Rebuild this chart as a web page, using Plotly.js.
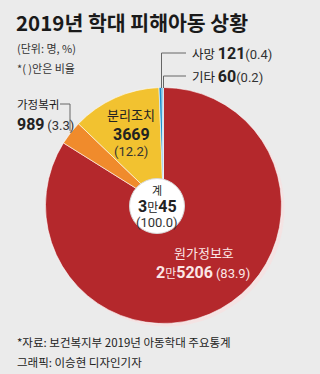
<!DOCTYPE html>
<html><head><meta charset="utf-8">
<script src="https://cdn.plot.ly/plotly-3.0.1.min.js"></script>
<style>html,body{margin:0;padding:0;background:#ebebeb;}#c{width:320px;height:374px;}</style>
</head><body><div id="c"></div>
<script>
const categories = ['원가정보호', '가정복귀', '분리조치', '사망', '기타'];
const counts = [25206, 989, 3669, 121, 60];
const percents = [83.9, 3.3, 12.2, 0.4, 0.2];
const countLabels = ['2만5206', '989', '3669', '121', '60'];
const totalName = '계';
const totalLabel = '3만45';
const totalPercent = '(100.0)';
const colors = ['#b4282c', '#f08b2c', '#f2c230', '#1b8ccc', '#4fb3e0'];

const W = 320, H = 374;
const px = x => x / W;
const py = y => 1 - y / H;
const FONT = '"Noto Sans CJK KR", "Noto Sans", sans-serif';
const NUM = "'Liberation Sans Narrow', 'Roboto', sans-serif";

function ann(x, y, text, size, color, anchor) {
  return {x: px(x), y: py(y), xref: 'paper', yref: 'paper', text: text, showarrow: false,
    xanchor: anchor || 'left', yanchor: 'middle', font: {family: FONT, size: size, color: color || '#222'}};
}
function line(x0, y0, x1, y1) {
  return {type: 'line', xref: 'paper', yref: 'paper', x0: px(x0), y0: py(y0), x1: px(x1), y1: py(y1),
    line: {color: '#666', width: 1}};
}
// number text: digits in a narrow Latin font, '만' kept in the Korean font
function num(label, size) {
  return label.split('만').map(s => '<b style="font-family:' + NUM + ';font-size:' + size + 'px">' + s + '</b>')
    .join('<span style="font-size:' + Math.round(size * 0.75) + 'px">만</span>');
}
function pct(p, size, color) {
  return '<span style="font-family:' + NUM + ';font-size:' + size + 'px;color:' + color + '">(' + p + ')</span>';
}
const cx = 163.5, cy = 205.5, R = 118;

const data = [{
  type: 'pie', labels: categories, values: counts, sort: false, direction: 'clockwise', rotation: 0,
  marker: {colors: colors, line: {color: '#ffffff', width: 0.6}},
  textinfo: 'none', hoverinfo: 'none', showlegend: false,
  domain: {x: [px(cx - R), px(cx + R)], y: [py(cy + R), py(cy - R)]}
}];

const layout = {
  width: W, height: H, margin: {l: 0, r: 0, t: 0, b: 0},
  paper_bgcolor: '#ebebeb', plot_bgcolor: '#ebebeb',
  shapes: [
    {type: 'circle', xref: 'paper', yref: 'paper', layer: 'below',
     x0: px(cx - R + 3), x1: px(cx + R + 3), y0: py(cy + R + 3), y1: py(cy - R + 3),
     fillcolor: '#f4e3e3', line: {width: 0}},
    {type: 'circle', xref: 'paper', yref: 'paper', layer: 'above',
     x0: px(157 - 27.5), x1: px(157 + 27.5), y0: py(206 + 27.5), y1: py(206 - 27.5),
     fillcolor: '#ffffff', line: {color: '#d8d8d8', width: 1}},
    line(161.5, 53, 186, 53), line(161.5, 53, 161.5, 88),
    line(163.5, 76, 186, 76), line(163.5, 76, 163.5, 88),
    line(60, 104, 70, 104), line(70, 104, 70, 131)
  ],
  annotations: [
    ann(14, 22, '<b>2019년 학대 피해아동 상황</b>', 20.5, '#1a1a1a'),
    ann(15, 48, '(단위: 명, %)', 11, '#333'),
    ann(15, 68, '*( )안은 비율', 11, '#333'),
    ann(190, 53, categories[3] + ' ' + num(countLabels[3], 16) + pct(percents[3].toFixed(1), 13, '#333'), 12.5, '#222'),
    ann(190, 76, categories[4] + ' ' + num(countLabels[4], 16) + pct(percents[4].toFixed(1), 13, '#333'), 12.5, '#222'),
    ann(15, 104, categories[1], 11.5, '#222'),
    ann(15, 124, num(countLabels[1], 16) + ' ' + pct(percents[1].toFixed(1), 13, '#333'), 12, '#222'),
    ann(131, 114, categories[2], 13, '#222', 'center'),
    ann(131, 134, num(countLabels[2], 16), 13, '#222', 'center'),
    ann(131, 151, pct(percents[2].toFixed(1), 13, '#333'), 13, '#333', 'center'),
    ann(157, 189.5, totalName, 11, '#222', 'center'),
    ann(157, 206.5, num(totalLabel, 16), 13, '#222', 'center'),
    ann(157, 222.5, pct('100.0', 13, '#333'), 13, '#333', 'center'),
    ann(204, 252, categories[0], 13, '#fbe6e6', 'center'),
    ann(203, 272, num(countLabels[0], 16) + ' ' + pct(percents[0].toFixed(1), 13, '#fbe6e6'), 13, '#fbe6e6', 'center'),
    ann(15, 342, '*자료: 보건복지부 2019년 아동학대 주요통계', 11.5, '#222'),
    ann(15, 362, '그래픽: 이승현 디자인기자', 11.5, '#222')
  ]
};
Plotly.newPlot('c', data, layout, {staticPlot: true, displayModeBar: false});
</script></body></html>
